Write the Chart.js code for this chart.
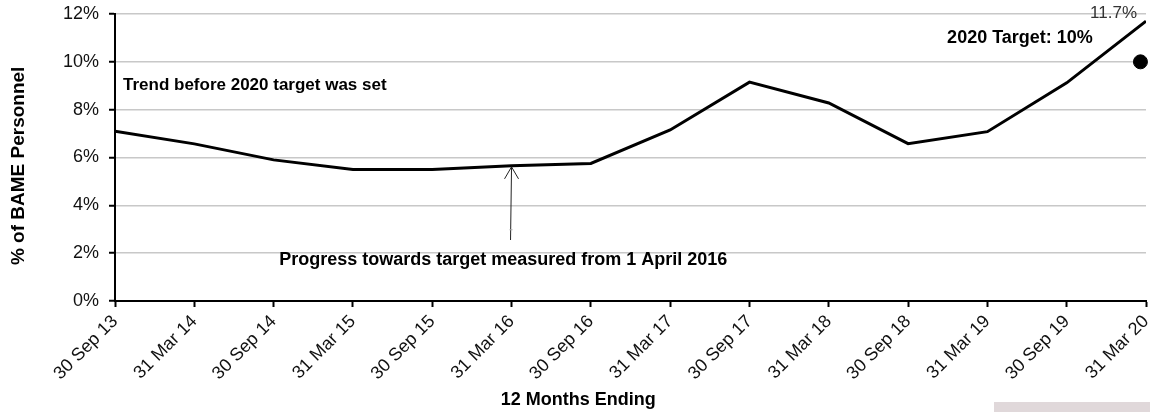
<!DOCTYPE html>
<html lang="en">
<head>
    <meta charset="UTF-8">
    <title>BAME Personnel</title>
    <script src="https://cdn.jsdelivr.net/npm/chart.js@4.4.1/dist/chart.umd.min.js"></script>
    <style>
        html, body { margin: 0; padding: 0; background: #fff; overflow: hidden; }
        #wrap { position: relative; width: 1150px; height: 412px; overflow: hidden; }
        #stamp { position: absolute; left: 994px; top: 402px; width: 156px; height: 10px; background: #e0d8da; }
    </style>
</head>
<body>
<div id="wrap">
    <canvas id="bameChart" width="1154" height="412"></canvas>
    <div id="stamp"></div>
</div>
<script>
    const periods = ['30 Sep 13', '31 Mar 14', '30 Sep 14', '31 Mar 15', '30 Sep 15', '31 Mar 16', '30 Sep 16',
        '31 Mar 17', '30 Sep 17', '31 Mar 18', '30 Sep 18', '31 Mar 19', '30 Sep 19', '31 Mar 20'];
    const bamePct = [7.1, 6.57, 5.9, 5.5, 5.5, 5.65, 5.75, 7.15, 9.15, 8.28, 6.58, 7.08, 9.12, 11.7];
    const targetPct = 10;
    const targetPos = 12.93;
    const yTicks = [0, 2, 4, 6, 8, 10, 12];

    const FONT = "'Liberation Sans', Arial, sans-serif";

    // text, arrow and axis titles drawn on top
    const notes = {
        id: 'notes',
        afterDatasetsDraw(chart) {
            const { ctx, scales: { x, y } } = chart;
            ctx.save();
            ctx.fillStyle = '#000';
            ctx.textBaseline = 'middle';

            ctx.font = 'bold 17px ' + FONT;
            ctx.textAlign = 'left';
            ctx.fillText('Trend before 2020 target was set', chart.chartArea.left + 8, y.getPixelForValue(9.0));

            ctx.font = 'bold 18px ' + FONT;
            ctx.textAlign = 'right';
            ctx.fillText('2020 Target: 10%', x.getPixelForValue(12.33), y.getPixelForValue(11.0));

            ctx.textAlign = 'left';
            ctx.fillText('Progress towards target measured from 1 April 2016', x.getPixelForValue(2.07), y.getPixelForValue(1.72));

            const last = chart.getDatasetMeta(0).data[bamePct.length - 1];
            ctx.font = '17px ' + FONT;
            ctx.fillStyle = '#333';
            ctx.textAlign = 'right';
            ctx.fillText(bamePct[bamePct.length - 1].toFixed(1) + '%', last.x - 9, last.y - 8);

            // arrow to the April 2016 point
            const ax = x.getPixelForValue(5);
            const ay0 = y.getPixelForValue(2.55);
            const ay1 = y.getPixelForValue(bamePct[5]) + 1;
            ctx.strokeStyle = '#222';
            ctx.lineWidth = 1;
            ctx.beginPath();
            ctx.moveTo(ax - 1, ay0);
            ctx.lineTo(ax, ay1);
            ctx.moveTo(ax - 7, ay1 + 12);
            ctx.lineTo(ax, ay1);
            ctx.lineTo(ax + 7, ay1 + 12);
            ctx.stroke();
            ctx.fillStyle = '#aaa';
            ctx.fillRect(ax - 2, y.getPixelForValue(3.0), 3, 1);

            // axis titles
            ctx.fillStyle = '#000';
            ctx.font = 'bold 18px ' + FONT;
            ctx.textAlign = 'center';
            ctx.fillText('12 Months Ending', x.getPixelForValue(5.84), 400);

            ctx.translate(19, y.getPixelForValue(5.65));
            ctx.rotate(-Math.PI / 2);
            ctx.font = 'bold 19px ' + FONT;
            ctx.fillText('% of BAME Personnel', 0, 0);
            ctx.restore();
        }
    };

    const ctx = document.getElementById('bameChart').getContext('2d');
    new Chart(ctx, {
        type: 'scatter',
        data: {
            datasets: [{
                data: bamePct.map((v, i) => ({ x: i, y: v })),
                showLine: true,
                borderColor: '#000',
                borderWidth: 3,
                pointRadius: 0,
                tension: 0
            }, {
                data: [{ x: targetPos, y: targetPct }],
                backgroundColor: '#000',
                borderColor: '#000',
                pointRadius: 7,
                clip: false
            }]
        },
        options: {
            responsive: false,
            animation: false,
            layout: { padding: { top: 14, right: 0, left: 0, bottom: 0 } },
            plugins: {
                legend: { display: false },
                tooltip: { enabled: false }
            },
            scales: {
                x: {
                    type: 'linear',
                    min: 0,
                    max: periods.length - 1,
                    afterFit: s => { s.height = 111; s.paddingLeft = 0; s.paddingRight = 0; },
                    afterBuildTicks: s => { s.ticks = periods.map((_, i) => ({ value: i })); },
                    ticks: {
                        autoSkip: false,
                        maxRotation: 45,
                        minRotation: 45,
                        padding: 4,
                        color: '#111',
                        font: { family: FONT, size: 18 },
                        callback: v => periods[v]
                    },
                    grid: { drawOnChartArea: false, tickLength: 6, tickColor: '#000', tickWidth: 2 },
                    border: { color: '#000', width: 2 }
                },
                y: {
                    min: 0,
                    max: 12,
                    afterFit: s => { s.width = 115; s.paddingTop = 0; s.paddingBottom = 0; },
                    afterBuildTicks: s => { s.ticks = yTicks.map(v => ({ value: v })); },
                    ticks: {
                        padding: 10,
                        color: '#111',
                        font: { family: FONT, size: 18 },
                        callback: v => v + '%'
                    },
                    grid: { color: '#c8c8c8', lineWidth: 1.5, tickLength: 6, tickColor: '#000', tickWidth: 2 },
                    border: { color: '#000', width: 2 }
                }
            }
        },
        plugins: [notes]
    });
</script>
</body>
</html>
